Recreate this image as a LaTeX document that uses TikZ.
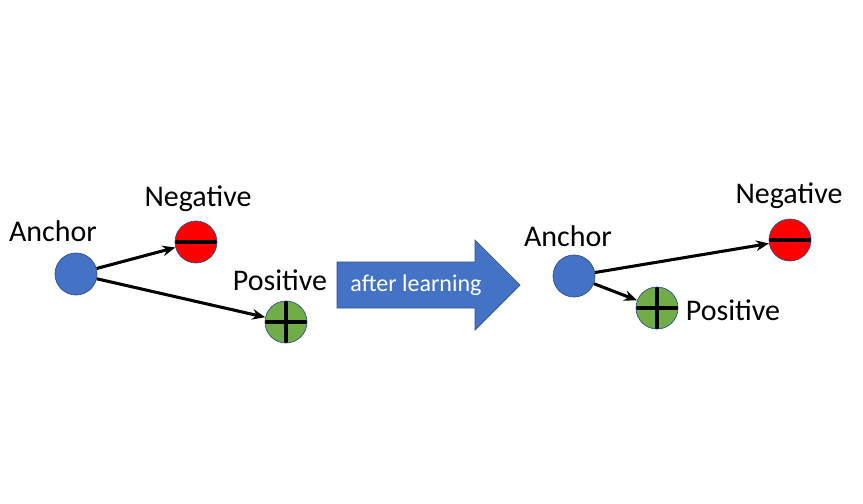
\documentclass[tikz,border=0pt]{standalone}
\usepackage{fontspec}
\setmainfont{Carlito}
\usetikzlibrary{arrows.meta}

\definecolor{ancblue}{HTML}{4472C4}
\definecolor{ancedge}{HTML}{2F528F}
\definecolor{negred}{HTML}{FF0000}
\definecolor{posgreen}{HTML}{70AD47}

\tikzset{
  point/.style={circle, minimum size=1.26cm, inner sep=0pt, draw=ancedge, line width=0.6pt},
  anchorpt/.style={point, fill=ancblue},
  negpt/.style={point, fill=negred,
    path picture={\draw[black, line width=3.6pt]
      (path picture bounding box.west) -- (path picture bounding box.east);}},
  pospt/.style={point, fill=posgreen,
    path picture={\draw[black, line width=3.6pt]
      (path picture bounding box.west) -- (path picture bounding box.east)
      (path picture bounding box.north) -- (path picture bounding box.south);}},
  lbl/.style={font=\fontsize{25.6}{30}\selectfont, inner sep=0pt},
  link/.style={-{Stealth[length=11pt, width=9pt]}, line width=2.6pt},
}

\begin{document}
\begin{tikzpicture}[x=0.03cm, y=-0.03cm]
  \path[use as bounding box] (0, 0) rectangle (863, 504);

  % before
  \node[anchorpt] (a1) at (76, 274) {};
  \node[negpt] (n1) at (196, 242) {};
  \node[pospt] (p1) at (286, 322) {};
  \node[lbl] (a1lbl) at (53, 231) {Anchor};
  \node[lbl] (n1lbl) at (198, 199) {Negative};
  \node[lbl] (p1lbl) at (280, 280) {Positive};
  \draw[link] (a1) -- (n1);
  \draw[link] (a1) -- (p1);

  % big arrow
  \draw[fill=ancblue, draw=ancedge, line width=0.6pt]
    (337, 262) -- (475, 262) -- (475, 240) -- (520, 285)
    -- (475, 330) -- (475, 308) -- (337, 308) -- cycle;
  \node[font=\fontsize{20.5}{24}\selectfont, text=white, inner sep=0pt]
    (learnlbl) at (416, 285) {after learning};

  % after
  \node[anchorpt] (a2) at (574, 276) {};
  \node[negpt] (n2) at (790, 240) {};
  \node[pospt] (p2) at (657, 308) {};
  \node[lbl] (a2lbl) at (568, 236) {Anchor};
  \node[lbl] (n2lbl) at (789, 196) {Negative};
  \node[lbl] (p2lbl) at (733, 310) {Positive};
  \draw[link] (a2) -- (n2);
  \draw[link] (a2) -- (p2);

\end{tikzpicture}
\end{document}
